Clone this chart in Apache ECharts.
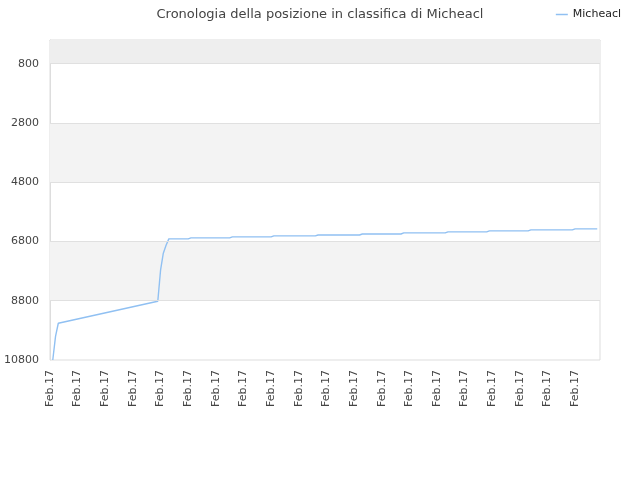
<!DOCTYPE html>
<html>
<head>
<meta charset="utf-8">
<script src="https://cdn.jsdelivr.net/npm/echarts@6/dist/echarts.min.js"></script>
<style>html,body{margin:0;padding:0;background:#fff}#c{width:640px;height:480px}</style>
</head>
<body>
<div id="c"></div>
<script>
const titleText = 'Cronologia della posizione in classifica di Micheacl';
const seriesName = 'Micheacl';
const categories = Array.from({length: 200}, () => 'Feb.17');
const pointIndex = [1, 2, 3, 21, 39, 40, 41, 42, 43, 50, 51, 65, 66, 80, 81, 96, 97, 112, 113, 127, 128, 143, 144, 158, 159, 173, 174, 189, 190, 198];
const pointValue = [10800, 10000, 9560, 9190, 8818, 7770, 7196, 6926, 6713, 6713, 6679, 6679, 6645, 6645, 6611, 6611, 6581, 6581, 6547, 6547, 6510, 6510, 6476, 6476, 6443, 6443, 6409, 6409, 6375, 6375];
const yTicks = [800, 2800, 4800, 6800, 8800, 10800];
const yMin = 0, yMax = 10800;
const bandRanges = [[0, 800], [2800, 4800], [6800, 8800]];
const bandColors = ['#eeeeee', '#f3f3f3', '#f3f3f3'];
const gridLines = [800, 2800, 4800, 6800, 8800];

const data = pointIndex.map((x, i) => [x, pointValue[i]]);
const chart = echarts.init(document.getElementById('c'));
const font = 'DejaVu Sans';
chart.setOption({
  animation: false,
  title: {
    text: titleText, left: 'center', top: 3,
    textStyle: {fontFamily: font, fontSize: 13, fontWeight: 'normal', color: '#444'}
  },
  legend: {
    data: [seriesName], right: 14, top: 4, itemWidth: 12, itemHeight: 8, itemGap: 6,
    icon: 'path://M0,4 L12,4 L12,5.5 L0,5.5 Z',
    textStyle: {fontFamily: font, fontSize: 11, color: '#222'}
  },
  grid: {left: 50, right: 40, top: 40, bottom: 120, show: true, borderColor: '#dddddd', borderWidth: 1, backgroundColor: '#fff'},
  xAxis: {
    type: 'category', data: categories, boundaryGap: false,
    axisLine: {lineStyle: {color: '#dddddd'}},
    axisTick: {show: false},
    splitLine: {show: false},
    axisLabel: {interval: 9, rotate: 90, fontFamily: font, fontSize: 11, color: '#444', margin: 10}
  },
  yAxis: {
    type: 'value', inverse: true, min: yMin, max: yMax,
    axisLine: {show: true, lineStyle: {color: '#dddddd'}},
    axisTick: {show: false, customValues: yTicks},
    splitLine: {show: false},
    axisLabel: {customValues: yTicks, formatter: v => String(v), fontFamily: font, fontSize: 11, color: '#444', margin: 11}
  },
  series: [{
    name: seriesName, type: 'line', data: data, showSymbol: false, symbol: 'none',
    lineStyle: {color: '#90c0f2', width: 1.4}, itemStyle: {color: '#90c0f2'},
    markArea: {
      silent: true,
      data: bandRanges.map((r, i) => [{yAxis: r[0], itemStyle: {color: bandColors[i]}}, {yAxis: r[1]}])
    },
    markLine: {
      silent: true, symbol: 'none', label: {show: false},
      lineStyle: {color: '#e0e0e0', type: 'solid', width: 1},
      data: gridLines.map(v => ({yAxis: v}))
    }
  }]
});
</script>
</body>
</html>
